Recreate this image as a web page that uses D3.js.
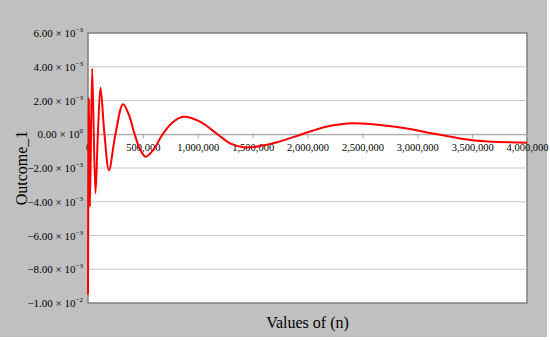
<!DOCTYPE html>
<html>
<head>
<meta charset="utf-8">
<script src="https://cdn.jsdelivr.net/npm/d3@7"></script>
<style>
  body { margin: 0; background: #fff; }
  svg text { font-family: "Liberation Serif", "DejaVu Serif", serif; fill: #000; }
</style>
</head>
<body>
<div id="plot"></div>
<script>
// values
var nValues = [0, 8000, 18000, 38000, 68000, 90000, 114000, 150000, 191000, 250000,
    319000, 370000, 425000, 475000, 525000, 600000, 680000, 770000, 870000, 1020000,
    1180000, 1300000, 1430000, 1680000, 1950000, 2150000, 2370000, 2800000, 3180000,
    3500000, 4000000];
var outcome = [-0.0095, 0.0021, -0.0043, 0.0039, -0.0035, 0.0, 0.00275, 0.0, -0.00213, 0.0,
    0.00178, 0.0012, 0.0, -0.0009, -0.00133, -0.00088, 0.0, 0.0007, 0.00103, 0.00075,
    0.0, -0.00055, -0.00078, -0.00055, 0.0, 0.00042, 0.00064, 0.00044, 0.0,
    -0.00035, -0.0005];
var yTicks = [0.006, 0.004, 0.002, 0, -0.002, -0.004, -0.006, -0.008, -0.01];
var xTicks = [0, 500000, 1000000, 1500000, 2000000, 2500000, 3000000, 3500000, 4000000];

var W = 550, H = 340;
var margin = {t: 33, r: 23, b: 37, l: 88};

var svg = d3.select('#plot')
    .append('svg')
    .attr('width', W)
    .attr('height', H);

// grey backdrop
svg.append('rect')
    .attr('width', 547).attr('height', 337)
    .attr('fill', '#c0c0c0');

var x = d3.scaleLinear().domain([0, 4000000]).range([margin.l, W - margin.r]);
var y = d3.scaleLinear().domain([-0.01, 0.006]).range([H - margin.b, margin.t]);

svg.append('rect')
    .attr('x', x(0)).attr('y', y(0.006))
    .attr('width', x(4000000) - x(0))
    .attr('height', y(-0.01) - y(0.006))
    .attr('fill', '#fff')
    .attr('stroke', '#808080')
    .attr('stroke-width', 1.5);

// gridlines
svg.selectAll('.grid')
    .data(yTicks.filter(function (d) { return d !== 0.006 && d !== -0.01; }))
    .enter()
    .append('line')
    .attr('x1', x(0)).attr('x2', x(4000000))
    .attr('y1', function (d) { return y(d); })
    .attr('y2', function (d) { return y(d); })
    .attr('stroke', '#c8c8c8')
    .attr('stroke-width', 1);

// y tick labels like 2.00 x 10^-3
function sci(v) {
    if (v === 0) return {m: '0.00', e: '0'};
    var e = Math.floor(Math.log10(Math.abs(v)) + 1e-9);
    var m = v / Math.pow(10, e);
    return {m: (m < 0 ? '\u2212' : '') + Math.abs(m).toFixed(2), e: (e < 0 ? '\u2212' : '') + Math.abs(e)};
}

var yl = svg.selectAll('.ylab')
    .data(yTicks)
    .enter()
    .append('text')
    .attr('x', 83)
    .attr('y', function (d) { return y(d) + 4; })
    .attr('text-anchor', 'end')
    .style('font-family', '"Liberation Serif", serif')
    .style('font-size', '11px');
yl.append('tspan').text(function (d) { return sci(d).m + ' \u00d7 10'; });
yl.append('tspan')
    .attr('dy', -5)
    .style('font-size', '7px')
    .text(function (d) { return sci(d).e; });

// x axis on the zero line
var xAxis = d3.axisBottom(x)
    .tickValues(xTicks)
    .tickSize(4)
    .tickFormat(d3.format(','));

var gx = svg.append('g')
    .attr('transform', 'translate(0,' + y(0) + ')')
    .attr('font-family', '"Liberation Serif", serif')
    .call(xAxis);
gx.select('.domain').attr('stroke', '#a0a0a0');
gx.selectAll('.tick line').attr('stroke', '#a0a0a0');
gx.selectAll('.tick text')
    .attr('dy', '0.9em')
    .style('font-size', '10.5px')
    .style('font-family', '"Liberation Serif", serif')
    .attr('fill', '#000');

// curve
var line = d3.line()
    .x(function (d, i) { return x(nValues[i]); })
    .y(function (d) { return y(d); })
    .curve(d3.curveCatmullRom.alpha(0.5));

svg.append('path')
    .datum(outcome)
    .attr('d', line)
    .attr('fill', 'none')
    .attr('stroke', '#ff0000')
    .attr('stroke-width', 2);

// titles
svg.append('text')
    .attr('transform', 'translate(27,' + ((margin.t + H - margin.b) / 2) + ') rotate(-90)')
    .attr('text-anchor', 'middle')
    .style('font-size', '16px')
    .text('Outcome_1');

svg.append('text')
    .attr('x', (x(0) + x(4000000)) / 2)
    .attr('y', 328)
    .attr('text-anchor', 'middle')
    .style('font-size', '16px')
    .text('Values of (n)');
</script>
</body>
</html>
